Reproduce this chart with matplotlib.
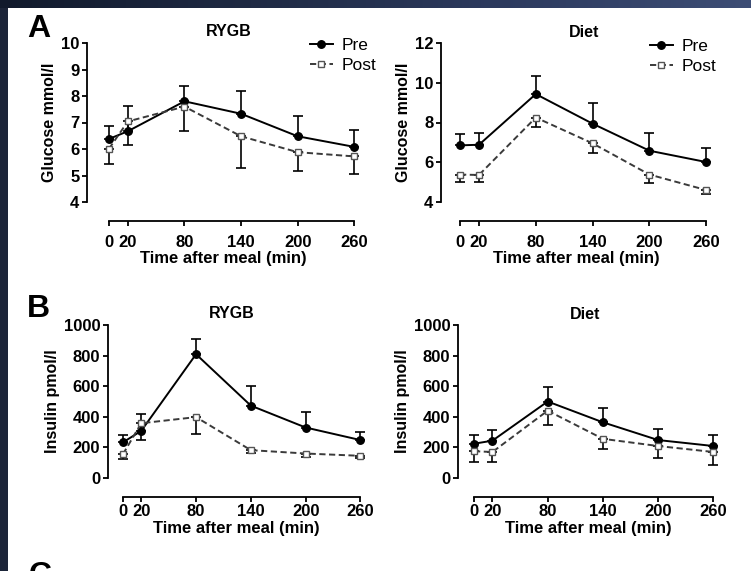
import numpy as np
import matplotlib
matplotlib.use("Agg")
import matplotlib.pyplot as plt
from matplotlib.colors import LinearSegmentedColormap

plt.rcParams["font.family"] = ["Liberation Sans", "DejaVu Sans"]

# ---- data ----
time_min = [0, 20, 80, 140, 200, 260]
x_ticks = [0, 20, 80, 140, 200, 260]

glucose_rygb_pre = [6.38, 6.67, 7.80, 7.33, 6.48, 6.08]
glucose_rygb_pre_err = [0.50, 0.97, 0.59, 0.85, 0.78, 0.65]
glucose_rygb_post = [6.01, 7.04, 7.60, 6.48, 5.88, 5.72]
glucose_rygb_post_err = [0.58, 0.88, 0.91, 1.20, 0.70, 0.65]

glucose_diet_pre = [6.85, 6.88, 9.43, 7.94, 6.58, 6.01]
glucose_diet_pre_err = [0.57, 0.59, 0.89, 1.04, 0.89, 0.71]
glucose_diet_post = [5.38, 5.36, 8.25, 6.95, 5.38, 4.60]
glucose_diet_post_err = [0.38, 0.35, 0.50, 0.50, 0.40, 0.22]

insulin_rygb_pre = [233, 308, 809, 473, 330, 248]
insulin_rygb_pre_err = [48, 110, 99, 127, 99, 55]
insulin_rygb_post = [156, 358, 398, 182, 160, 145]
insulin_rygb_post_err = [29, 110, 112, 20, 22, 15]

insulin_diet_pre = [224, 244, 500, 364, 248, 209]
insulin_diet_pre_err = [58, 68, 95, 91, 75, 73]
insulin_diet_post = [175, 170, 440, 256, 209, 170]
insulin_diet_post_err = [69, 67, 95, 64, 78, 82]

glucose_rygb_ticks = [4, 5, 6, 7, 8, 9, 10]
glucose_diet_ticks = [4, 6, 8, 10, 12]
insulin_ticks = [0, 200, 400, 600, 800, 1000]

W, H = 751, 571
fig = plt.figure(figsize=(W / 100, H / 100), dpi=100)
fig.patch.set_facecolor("white")


def px_axes(left, top, right, bottom):
    return fig.add_axes([left / W, 1 - bottom / H, (right - left) / W, (bottom - top) / H])


# dark frame along the top and left edges
top_band = fig.add_axes([0, 1 - 8 / H, 1, 8 / H])
grad = np.linspace(0, 1, 256).reshape(1, -1)
band_cmap = LinearSegmentedColormap.from_list("band", ["#111a2c", "#1f2a44", "#2c3a5e", "#3d4d75"])
top_band.imshow(grad, aspect="auto", cmap=band_cmap, extent=[0, 1, 0, 1])
top_band.axis("off")
left_band = fig.add_axes([0, 0, 8 / W, 1 - 8 / H])
left_band.set_facecolor("#1c2539")
left_band.set_xticks([])
left_band.set_yticks([])
for s in left_band.spines.values():
    s.set_visible(False)

PRE_KW = dict(color="black", lw=1.4, marker="o", markersize=5.4,
              markerfacecolor="black", markeredgecolor="black", zorder=4, clip_on=False)
POST_KW = dict(color="#3a3a3a", lw=1.4, ls=(0, (3.2, 1.8)), marker="s", markersize=5.0,
               markerfacecolor="white", markeredgecolor="#555555", markeredgewidth=1.0,
               zorder=5, clip_on=False)
ERR_KW = dict(fmt="none", ecolor="black", elinewidth=1.2, capsize=3.6, capthick=1.2,
              zorder=3, clip_on=False)


def panel(ax, pre, pre_err, post, post_err, ylim, yticks, ylabel, xlim,
          xpad=2, legend_pos=None):
    zeros = [0] * len(time_min)
    ax.errorbar(time_min, pre, yerr=[zeros, pre_err], **ERR_KW)
    ax.errorbar(time_min, post, yerr=[post_err, zeros], **ERR_KW)
    h_pre, = ax.plot(time_min, pre, label="Pre", **PRE_KW)
    h_post, = ax.plot(time_min, post, label="Post", **POST_KW)
    ax.set_xlim(*xlim)
    ax.set_ylim(*ylim)
    for s in ("top", "right"):
        ax.spines[s].set_visible(False)
    ax.spines["bottom"].set_position(("outward", 13.5))
    ax.spines["left"].set_bounds(ylim[0], ylim[1])
    ax.spines["bottom"].set_bounds(0, 260)
    for s in ("left", "bottom"):
        ax.spines[s].set_linewidth(1.3)
    ax.set_xticks(x_ticks)
    ax.set_yticks(yticks)
    ax.set_xticklabels([str(t) for t in x_ticks], fontsize=12, fontweight="bold")
    ax.set_yticklabels([str(t) for t in yticks], fontsize=12, fontweight="bold")
    ax.tick_params(axis="both", length=3.5, width=1.3, pad=2)
    ax.tick_params(axis="x", pad=xpad)
    ax.set_xlabel("Time after meal (min)", fontsize=12, fontweight="bold", labelpad=1)
    ax.set_ylabel(ylabel, fontsize=11.5, fontweight="bold", labelpad=3)
    ax.patch.set_alpha(0)
    if legend_pos is not None:
        lx, ly = legend_pos
        ax.legend(handles=[h_pre, h_post], loc="upper left",
                  bbox_to_anchor=(lx / W, 1 - ly / H), bbox_transform=fig.transFigure,
                  frameon=False, fontsize=12.5, handlelength=1.3, handletextpad=0.5,
                  labelspacing=0.25, borderpad=0, borderaxespad=0)
    return ax


ax1 = px_axes(87, 43, 359, 202)
panel(ax1, glucose_rygb_pre, glucose_rygb_pre_err, glucose_rygb_post, glucose_rygb_post_err,
      (4, 10), glucose_rygb_ticks, "Glucose mmol/l", (-23.3, 265), xpad=6.5,
      legend_pos=(310, 38))
ax1.set_title("RYGB", fontsize=11.5, fontweight="bold", pad=5, x=0.52)

ax2 = px_axes(441, 43, 711, 202)
panel(ax2, glucose_diet_pre, glucose_diet_pre_err, glucose_diet_post, glucose_diet_post_err,
      (4, 12), glucose_diet_ticks, "Glucose mmol/l", (-20.1, 265), xpad=6.5,
      legend_pos=(650, 39))
ax2.set_title("Diet", fontsize=11.5, fontweight="bold", pad=4, x=0.53)

ax3 = px_axes(108, 325, 365, 478)
panel(ax3, insulin_rygb_pre, insulin_rygb_pre_err, insulin_rygb_post, insulin_rygb_post_err,
      (0, 1000), insulin_ticks, "Insulin pmol/l", (-16.4, 265))
ax3.set_title("RYGB", fontsize=11.5, fontweight="bold", pad=5, x=0.48)

ax4 = px_axes(458, 325, 718, 478)
panel(ax4, insulin_diet_pre, insulin_diet_pre_err, insulin_diet_post, insulin_diet_post_err,
      (0, 1000), insulin_ticks, "Insulin pmol/l", (-17.4, 265))
ax4.set_title("Diet", fontsize=11.5, fontweight="bold", pad=4, x=0.49)

# panel letters
fig.text(27 / W, 1 - 14 / H, "A", fontsize=23, fontweight="bold", va="top", ha="left")
fig.text(27 / W, 1 - 294 / H, "B", fontsize=23, fontweight="bold", va="top", ha="left")
fig.text(29 / W, 1 - 561 / H, "C", fontsize=23, fontweight="bold", va="top", ha="left")

fig.savefig("out.png", dpi=100, facecolor="white")
